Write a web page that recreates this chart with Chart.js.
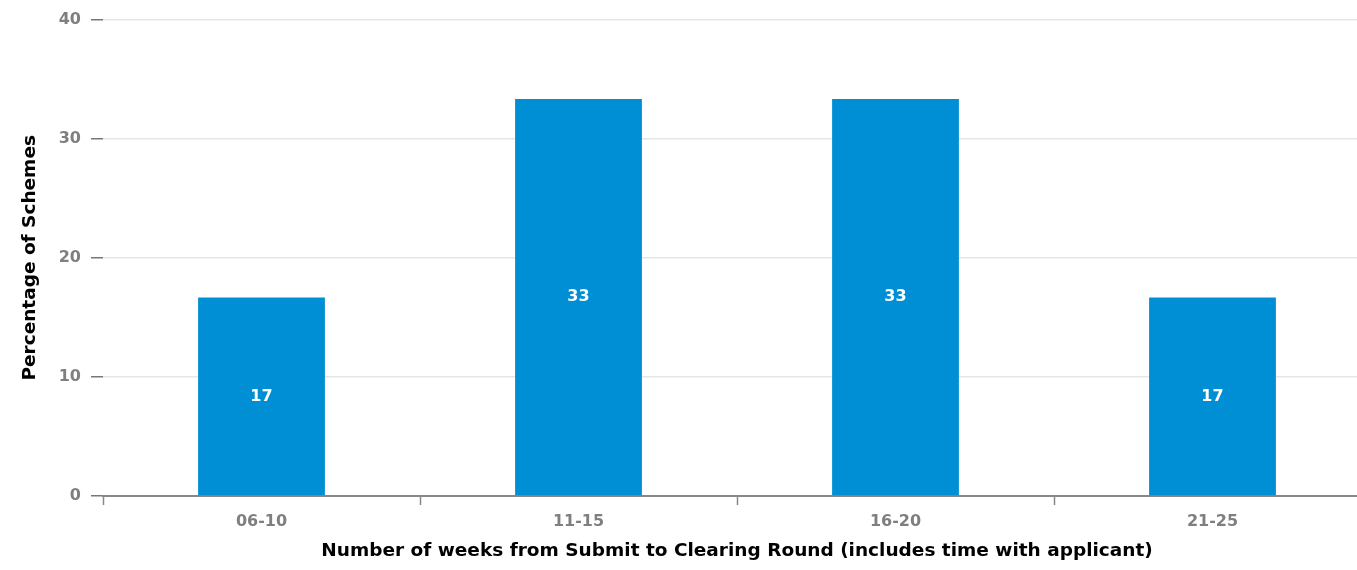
<!DOCTYPE html>
<html>
<head>
<meta charset="utf-8">
<script src="https://cdn.jsdelivr.net/npm/chart.js@4/dist/chart.umd.min.js"></script>
<style>
  html, body { margin: 0; padding: 0; background: #fff; overflow: hidden; }
  #wrap { width: 1380px; height: 570px; position: relative; }
</style>
</head>
<body>
<div id="wrap"><canvas id="chart"></canvas></div>
<script>
  // data
  var categories = ['06-10', '11-15', '16-20', '21-25'];
  var percentages = [16.67, 33.33, 33.33, 16.67];
  var yTicks = [0, 10, 20, 30, 40];

  var font = '"DejaVu Sans", Verdana, sans-serif';

  // white value labels in the middle of each bar
  var barLabels = {
    id: 'barLabels',
    afterDatasetsDraw: function (chart) {
      var ctx = chart.ctx;
      var meta = chart.getDatasetMeta(0);
      ctx.save();
      ctx.fillStyle = '#ffffff';
      ctx.font = 'bold 16px ' + font;
      ctx.textAlign = 'center';
      ctx.textBaseline = 'middle';
      meta.data.forEach(function (bar, i) {
        var mid = (bar.y + bar.base) / 2;
        ctx.fillText(Math.round(percentages[i]), bar.x, mid);
      });
      ctx.restore();
    }
  };

  var ctx = document.getElementById('chart').getContext('2d');
  var myChart = new Chart(ctx, {
    type: 'bar',
    data: {
      labels: categories,
      datasets: [{
        data: percentages,
        backgroundColor: '#008fd5',
        borderWidth: 0,
        barPercentage: 0.4,
        categoryPercentage: 1
      }]
    },
    options: {
      responsive: true,
      maintainAspectRatio: false,
      animation: false,
      layout: { padding: { top: 10, right: 9, left: 0, bottom: 0 } },
      plugins: {
        legend: { display: false },
        tooltip: { enabled: false }
      },
      scales: {
        x: {
          grid: {
            offset: true,
            drawOnChartArea: false,
            tickLength: 9,
            tickColor: '#888888',
            tickWidth: 1.5
          },
          border: { display: true, color: '#888888', width: 2 },
          ticks: {
            color: '#7f7f7f',
            padding: 7,
            font: { family: font, size: 16, weight: 'bold' }
          },
          title: {
            display: true,
            text: 'Number of weeks from Submit to Clearing Round (includes time with applicant)',
            color: '#000000',
            font: { family: font, size: 18.5, weight: 'bold' },
            padding: { top: 0, bottom: 8 }
          },
          afterFit: function (scale) { scale.height = 74; }
        },
        y: {
          min: 0,
          max: 40,
          afterBuildTicks: function (scale) {
            scale.ticks = yTicks.map(function (v) { return { value: v }; });
          },
          grid: {
            color: '#e6e6e6',
            lineWidth: 1.5,
            tickColor: '#777777',
            tickLength: 12
          },
          border: { display: false },
          ticks: {
            color: '#7f7f7f',
            padding: 10,
            font: { family: font, size: 16, weight: 'bold' }
          },
          title: {
            display: true,
            text: 'Percentage of Schemes',
            color: '#000000',
            font: { family: font, size: 18.5, weight: 'bold' },
            padding: { top: 19, bottom: 0 }
          },
          afterFit: function (scale) { scale.width = 103; }
        }
      }
    },
    plugins: [barLabels]
  });
</script>
</body>
</html>
